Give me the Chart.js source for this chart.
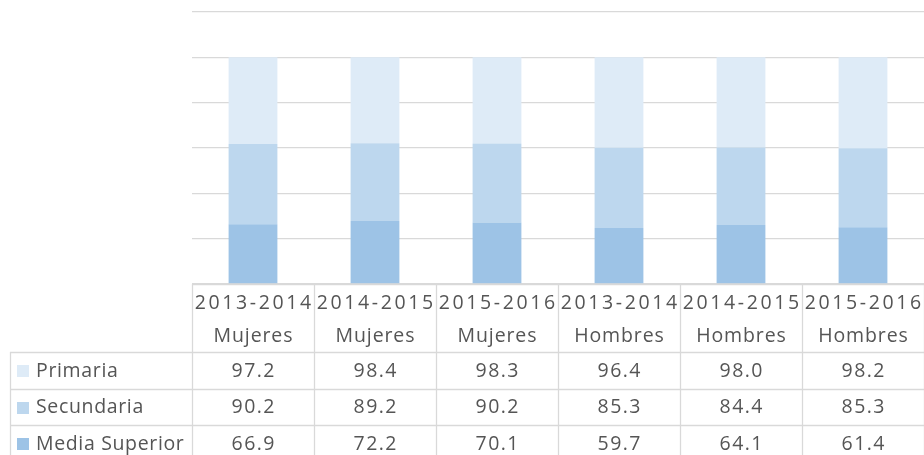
<!DOCTYPE html>
<html>
<head>
<meta charset="utf-8">
<script src="https://cdn.jsdelivr.net/npm/chart.js@4/dist/chart.umd.min.js"></script>
<style>
  html, body { margin: 0; padding: 0; background: #ffffff; }
  #wrap { width: 924px; height: 455px; position: relative; }
</style>
</head>
<body>
<div id="wrap"><canvas id="c" width="924" height="455"></canvas></div>
<script>
const periods = ['2013-2014', '2014-2015', '2015-2016', '2013-2014', '2014-2015', '2015-2016'];
const groups = ['Mujeres', 'Mujeres', 'Mujeres', 'Hombres', 'Hombres', 'Hombres'];
const primaria = [97.2, 98.4, 98.3, 96.4, 98.0, 98.2];
const secundaria = [90.2, 89.2, 90.2, 85.3, 84.4, 85.3];
const mediaSuperior = [66.9, 72.2, 70.1, 59.7, 64.1, 61.4];
const seriesNames = ['Primaria', 'Secundaria', 'Media Superior'];
const yTicks = [0, 20, 40, 60, 80, 100, 120];

const colors = { 'Primaria': '#deebf7', 'Secundaria': '#bdd7ee', 'Media Superior': '#9dc3e6' };
const raw = { 'Primaria': primaria, 'Secundaria': secundaria, 'Media Superior': mediaSuperior };
const totals = periods.map((_, i) => primaria[i] + secundaria[i] + mediaSuperior[i]);
const pct = arr => arr.map((v, i) => v / totals[i] * 100);

const labels = periods.map((p, i) => [p, groups[i]]);
const stackOrder = ['Media Superior', 'Secundaria', 'Primaria'];

const FONT = '"Open Sans", sans-serif';
const TEXT = '#555555';
const LINE = '#d9d9d9';

const tablePlugin = {
  id: 'dataTable',
  afterDraw(chart) {
    const ctx = chart.ctx;
    const area = chart.chartArea;
    const x = chart.scales.x;
    const n = labels.length;
    const colW = (area.right - area.left) / n;
    const top = area.bottom;
    const headerH = 68;
    const rowH = 36.5;
    const leftX = 10;
    ctx.save();
    ctx.strokeStyle = LINE;
    ctx.lineWidth = 1.3;
    const rowsBottom = top + headerH + rowH * seriesNames.length;
    for (let i = 0; i <= n; i++) {
      const xx = Math.round(area.left + colW * i) + 0.5;
      ctx.beginPath();
      ctx.moveTo(xx, top);
      ctx.lineTo(xx, rowsBottom);
      ctx.stroke();
    }
    ctx.beginPath();
    ctx.moveTo(area.left, Math.round(top) + 0.5);
    ctx.lineTo(area.right, Math.round(top) + 0.5);
    ctx.stroke();
    for (let r = 0; r <= seriesNames.length; r++) {
      const yy = Math.round(top + headerH + rowH * r) + 0.5;
      ctx.beginPath();
      ctx.moveTo(leftX, yy);
      ctx.lineTo(area.right, yy);
      ctx.stroke();
    }
    ctx.beginPath();
    ctx.moveTo(leftX + 0.5, top + headerH);
    ctx.lineTo(leftX + 0.5, rowsBottom);
    ctx.stroke();

    ctx.fillStyle = TEXT;
    ctx.textAlign = 'center';
    ctx.textBaseline = 'middle';
    ctx.font = '19.5px ' + FONT;
    for (let i = 0; i < n; i++) {
      const cx = x.getPixelForValue(i);
      ctx.letterSpacing = '2.6px';
      ctx.fillText(periods[i], cx + 1.3, top + 19.5);
      ctx.letterSpacing = '0.9px';
      ctx.fillText(groups[i], cx + 0.45, top + 52);
    }
    seriesNames.forEach((name, r) => {
      const cy = top + headerH + rowH * r + rowH / 2 + 1;
      ctx.fillStyle = colors[name];
      ctx.fillRect(17, Math.round(cy) - 6, 12, 12);
      ctx.fillStyle = TEXT;
      ctx.textAlign = 'left';
      ctx.letterSpacing = '0.65px';
      ctx.fillText(name, 36, cy);
      ctx.textAlign = 'center';
      ctx.letterSpacing = '1.4px';
      raw[name].forEach((v, i) => {
        ctx.fillText(v.toFixed(1), x.getPixelForValue(i) + 0.7, cy);
      });
    });
    ctx.letterSpacing = '0px';
    ctx.restore();
  }
};

new Chart(document.getElementById('c'), {
  type: 'bar',
  data: {
    labels: labels,
    datasets: stackOrder.map(name => ({
      label: name,
      data: pct(raw[name]),
      backgroundColor: colors[name],
      borderWidth: 0,
      categoryPercentage: 1.0,
      barPercentage: 0.4
    }))
  },
  options: {
    responsive: false,
    animation: false,
    devicePixelRatio: 1,
    layout: { padding: { left: 192, right: 0, top: 12, bottom: 171 } },
    plugins: { legend: { display: false }, tooltip: { enabled: false } },
    scales: {
      x: {
        stacked: true,
        display: false,
        grid: { display: false }
      },
      y: {
        stacked: true,
        min: yTicks[0],
        max: yTicks[yTicks.length - 1],
        afterBuildTicks(scale) { scale.ticks = yTicks.map(v => ({ value: v })); },
        ticks: { display: false },
        border: { display: false },
        grid: { color: LINE, lineWidth: 1.3, drawTicks: false }
      }
    }
  },
  plugins: [tablePlugin]
});
</script>
</body>
</html>
